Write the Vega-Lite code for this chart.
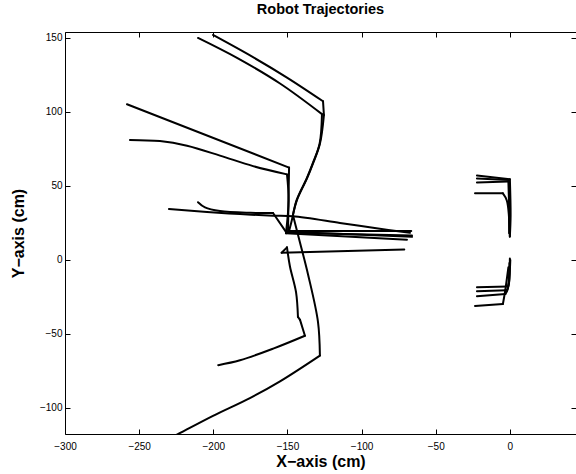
{
  "$schema": "https://vega.github.io/schema/vega-lite/v6.json",
  "width": 511,
  "height": 402,
  "autosize": "none",
  "padding": {"left": 65, "top": 32, "right": 0, "bottom": 40},
  "background": "white",
  "title": {"text": "Robot Trajectories", "fontSize": 14.5, "font": "Liberation Sans", "fontWeight": "bold", "color": "black", "offset": 14, "anchor": "middle"},
  "config": {
    "view": {"stroke": null},
    "axis": {
      "grid": false,
      "domainColor": "black",
      "domainWidth": 1,
      "tickColor": "black",
      "tickSize": -5,
      "labelFlush": false,
      "labelFont": "Liberation Sans",
      "labelFontSize": 10,
      "labelColor": "black",
      "titleFont": "Liberation Sans",
      "titleFontSize": 16,
      "titleFontWeight": "bold",
      "titleColor": "black"
    }
  },
  "data": {"values": [
    {"t": "T1a", "i": 1, "x": -200.2, "y": 152},
    {"t": "T1a", "i": 2, "x": -173.2, "y": 137},
    {"t": "T1a", "i": 3, "x": -150.3, "y": 123.2},
    {"t": "T1a", "i": 4, "x": -126, "y": 107.2},
    {"t": "T1b", "i": 1, "x": -126, "y": 107.2},
    {"t": "T1b", "i": 2, "x": -125.4, "y": 97.9},
    {"t": "T1c", "i": 1, "x": -125.4, "y": 97.9},
    {"t": "T1c", "i": 2, "x": -128.1, "y": 78.5},
    {"t": "T1c", "i": 3, "x": -132.8, "y": 65.1},
    {"t": "T1c", "i": 4, "x": -136.8, "y": 55.1},
    {"t": "T1c", "i": 5, "x": -143.6, "y": 40.4},
    {"t": "T1c", "i": 6, "x": -146.3, "y": 30.3},
    {"t": "T1d", "i": 1, "x": -146.3, "y": 30.3},
    {"t": "T1d", "i": 2, "x": -141.5, "y": 11.6},
    {"t": "T1d", "i": 3, "x": -136.1, "y": -9.8},
    {"t": "T1d", "i": 4, "x": -129.4, "y": -41.8},
    {"t": "T1d", "i": 5, "x": -128.1, "y": -64.6},
    {"t": "T1e", "i": 1, "x": -128.1, "y": -64.6},
    {"t": "T1e", "i": 2, "x": -155, "y": -82},
    {"t": "T1e", "i": 3, "x": -175.3, "y": -93.3},
    {"t": "T1e", "i": 4, "x": -200.2, "y": -105.3},
    {"t": "T1e", "i": 5, "x": -225.8, "y": -118.7},
    {"t": "T1e", "i": 6, "x": -236, "y": -124},
    {"t": "T2a", "i": 1, "x": -210.3, "y": 150},
    {"t": "T2a", "i": 2, "x": -184, "y": 136.5},
    {"t": "T2a", "i": 3, "x": -155, "y": 119.2},
    {"t": "T2a", "i": 4, "x": -126.7, "y": 98.5},
    {"t": "T2b", "i": 1, "x": -126.7, "y": 98.5},
    {"t": "T2b", "i": 2, "x": -128.3, "y": 78.5},
    {"t": "T2b", "i": 3, "x": -133, "y": 65.1},
    {"t": "T2b", "i": 4, "x": -137, "y": 55.1},
    {"t": "T2b", "i": 5, "x": -143.8, "y": 40.4},
    {"t": "T2b", "i": 6, "x": -147, "y": 27},
    {"t": "T2b", "i": 7, "x": -148.9, "y": 19.5},
    {"t": "T2c", "i": 1, "x": -148.9, "y": 19.5},
    {"t": "T2c", "i": 2, "x": -66.5, "y": 19.5},
    {"t": "C1", "i": 1, "x": -258.2, "y": 105.2},
    {"t": "C1", "i": 2, "x": -148.9, "y": 62.4},
    {"t": "C2", "i": 1, "x": -148.9, "y": 62.4},
    {"t": "C2", "i": 2, "x": -149.3, "y": 40},
    {"t": "C2", "i": 3, "x": -149.6, "y": 18.3},
    {"t": "C3", "i": 1, "x": -149.6, "y": 18.3},
    {"t": "C3", "i": 2, "x": -66, "y": 16.5},
    {"t": "D1", "i": 1, "x": -256.2, "y": 81.1},
    {"t": "D1", "i": 2, "x": -236, "y": 80.3},
    {"t": "D1", "i": 3, "x": -217.7, "y": 77.1},
    {"t": "D1", "i": 4, "x": -195.5, "y": 70.5},
    {"t": "D1", "i": 5, "x": -173.2, "y": 63.4},
    {"t": "D1", "i": 6, "x": -150.3, "y": 57.8},
    {"t": "D2", "i": 1, "x": -150.3, "y": 57.8},
    {"t": "D2", "i": 2, "x": -149.2, "y": 40.4},
    {"t": "D2", "i": 3, "x": -151, "y": 18},
    {"t": "D3", "i": 1, "x": -151, "y": 18},
    {"t": "D3", "i": 2, "x": -69.4, "y": 13.6},
    {"t": "E", "i": 1, "x": -229.9, "y": 34.4},
    {"t": "E", "i": 2, "x": -204.2, "y": 32.4},
    {"t": "E", "i": 3, "x": -182, "y": 31},
    {"t": "E", "i": 4, "x": -159.7, "y": 29.9},
    {"t": "E", "i": 5, "x": -146.3, "y": 29.5},
    {"t": "E", "i": 6, "x": -114.6, "y": 25},
    {"t": "E", "i": 7, "x": -92.3, "y": 21.7},
    {"t": "E", "i": 8, "x": -67.4, "y": 18.3},
    {"t": "F1", "i": 1, "x": -210.3, "y": 39},
    {"t": "F1", "i": 2, "x": -205.6, "y": 35.5},
    {"t": "F1", "i": 3, "x": -195.5, "y": 33},
    {"t": "F1", "i": 4, "x": -175, "y": 31.8},
    {"t": "F1", "i": 5, "x": -159.7, "y": 31.7},
    {"t": "F2", "i": 1, "x": -159.7, "y": 31.7},
    {"t": "F2", "i": 2, "x": -151, "y": 19},
    {"t": "F3", "i": 1, "x": -151, "y": 19},
    {"t": "F3", "i": 2, "x": -66, "y": 15.6},
    {"t": "G1", "i": 1, "x": -71.2, "y": 7},
    {"t": "G1", "i": 2, "x": -153.9, "y": 4.9},
    {"t": "G2", "i": 1, "x": -153.9, "y": 4.9},
    {"t": "G2", "i": 2, "x": -150.3, "y": 8.5},
    {"t": "G3", "i": 1, "x": -150.3, "y": 8.5},
    {"t": "G3", "i": 2, "x": -148.3, "y": -4.4},
    {"t": "G3", "i": 3, "x": -144.2, "y": -21.8},
    {"t": "G3", "i": 4, "x": -142.9, "y": -38.5},
    {"t": "G4", "i": 1, "x": -142.9, "y": -38.5},
    {"t": "G4", "i": 2, "x": -141.5, "y": -40.5},
    {"t": "G5", "i": 1, "x": -141.5, "y": -40.5},
    {"t": "G5", "i": 2, "x": -138.2, "y": -51.2},
    {"t": "G6", "i": 1, "x": -138.2, "y": -51.2},
    {"t": "G6", "i": 2, "x": -159.6, "y": -59.9},
    {"t": "G6", "i": 3, "x": -182, "y": -67.8},
    {"t": "G6", "i": 4, "x": -196.7, "y": -71.1},
    {"t": "U1a", "i": 1, "x": -22.2, "y": 57.1},
    {"t": "U1a", "i": 2, "x": 0, "y": 54.5},
    {"t": "U1b", "i": 1, "x": 0, "y": 54.5},
    {"t": "U1b", "i": 2, "x": 0.5, "y": 30},
    {"t": "U1b", "i": 3, "x": 0, "y": 16},
    {"t": "U2a", "i": 1, "x": -22.2, "y": 55},
    {"t": "U2a", "i": 2, "x": -0.5, "y": 54},
    {"t": "U2b", "i": 1, "x": -0.5, "y": 54},
    {"t": "U2b", "i": 2, "x": -0.5, "y": 18},
    {"t": "U3a", "i": 1, "x": -22.2, "y": 52.4},
    {"t": "U3a", "i": 2, "x": -1, "y": 53},
    {"t": "U3b", "i": 1, "x": -1, "y": 53},
    {"t": "U3b", "i": 2, "x": 0, "y": 20},
    {"t": "U4a", "i": 1, "x": -23.5, "y": 45},
    {"t": "U4a", "i": 2, "x": -4.7, "y": 45},
    {"t": "U4b", "i": 1, "x": -4.7, "y": 45},
    {"t": "U4b", "i": 2, "x": -2, "y": 40},
    {"t": "U4b", "i": 3, "x": 0, "y": 15.6},
    {"t": "L1a", "i": 1, "x": 0, "y": 1},
    {"t": "L1a", "i": 2, "x": -0.5, "y": -15},
    {"t": "L1a", "i": 3, "x": -1.3, "y": -18},
    {"t": "L1b", "i": 1, "x": -1.3, "y": -18},
    {"t": "L1b", "i": 2, "x": -22.2, "y": -18.4},
    {"t": "L2a", "i": 1, "x": 0.3, "y": 0},
    {"t": "L2a", "i": 2, "x": -1, "y": -18},
    {"t": "L2a", "i": 3, "x": -2, "y": -20.5},
    {"t": "L2b", "i": 1, "x": -2, "y": -20.5},
    {"t": "L2b", "i": 2, "x": -22.2, "y": -21.1},
    {"t": "L3a", "i": 1, "x": -0.3, "y": -2},
    {"t": "L3a", "i": 2, "x": -1.5, "y": -20},
    {"t": "L3a", "i": 3, "x": -3, "y": -23},
    {"t": "L3b", "i": 1, "x": -3, "y": -23},
    {"t": "L3b", "i": 2, "x": -22.2, "y": -24.5},
    {"t": "L4a", "i": 1, "x": -1, "y": -5},
    {"t": "L4a", "i": 2, "x": -3.3, "y": -21.8},
    {"t": "L4a", "i": 3, "x": -4.7, "y": -29.8},
    {"t": "L4b", "i": 1, "x": -4.7, "y": -29.8},
    {"t": "L4b", "i": 2, "x": -23.5, "y": -31.1}
  ]},
  "layer": [
    {
      "mark": {"type": "line", "color": "black", "strokeWidth": 2, "clip": true, "strokeJoin": "round", "strokeCap": "round", "interpolate": "catmull-rom"},
      "encoding": {
        "x": {"field": "x", "type": "quantitative", "scale": {"domain": [-300, 44.6], "nice": false, "zero": false},
              "axis": {"orient": "bottom", "values": [-300, -250, -200, -150, -100, -50, 0], "labelPadding": 12, "title": "X−axis (cm)", "titlePadding": 2}},
        "y": {"field": "y", "type": "quantitative", "scale": {"domain": [-117.6, 154], "nice": false, "zero": false},
              "axis": {"orient": "left", "values": [-100, -50, 0, 50, 100, 150], "labelPadding": 8, "title": "Y−axis (cm)", "titlePadding": 13}},
        "detail": {"field": "t"},
        "order": {"field": "i"}
      }
    },
    {
      "mark": {"type": "line", "opacity": 0},
      "encoding": {
        "x": {"field": "x", "type": "quantitative",
              "axis": {"orient": "top", "values": [-300, -250, -200, -150, -100, -50, 0], "labels": false, "title": null}},
        "y": {"field": "y", "type": "quantitative",
              "axis": {"orient": "right", "values": [-100, -50, 0, 50, 100, 150], "labels": false, "title": null, "domain": false}},
        "detail": {"field": "t"},
        "order": {"field": "i"}
      }
    }
  ],
  "resolve": {"axis": {"x": "independent", "y": "independent"}}
}
